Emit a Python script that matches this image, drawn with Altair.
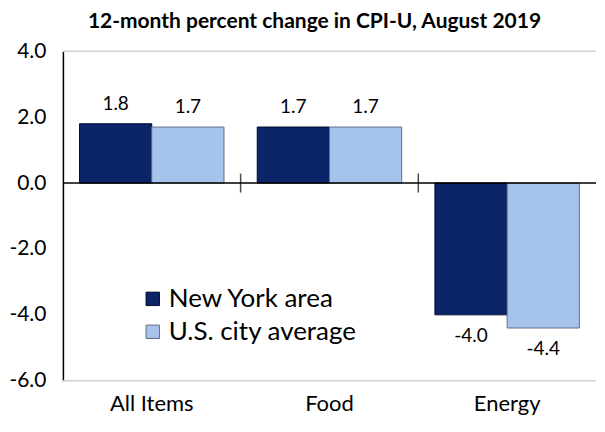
import altair as alt
import pandas as pd

categories = ["All Items", "Food", "Energy"]
series = ["New York area", "U.S. city average"]
ny_values = [1.8, 1.7, -4.0]
us_values = [1.7, 1.7, -4.4]
y_ticks = [-6.0, -4.0, -2.0, 0.0, 2.0, 4.0]
colors = ["#0c2468", "#a6c3ec"]
strokes = ["#020c30", "#5f6f8c"]

rows = []
for c, a, b in zip(categories, ny_values, us_values):
    rows.append({"cat": c, "series": series[0], "value": a})
    rows.append({"cat": c, "series": series[1], "value": b})
df = pd.DataFrame(rows)

FONT = "Lato"
W, H = 534, 330
LABEL_EXPR = "replace(format(datum.value, '.1f'), '\u2212', '-')"

x_enc = alt.X("cat:N", sort=categories, scale=alt.Scale(paddingInner=0, paddingOuter=0),
              axis=alt.Axis(title=None, domain=False, ticks=False, labelPadding=13,
                            labelFontSize=22, labelColor="black", labelFont=FONT, labelAngle=0))
xoff = alt.XOffset("series:N", sort=series, scale=alt.Scale(paddingInner=0, paddingOuter=0.23))
y_scale = alt.Scale(domain=[-6, 4], nice=False)

base = alt.Chart(df)

bars = base.mark_bar(strokeWidth=1).encode(
    x=x_enc,
    xOffset=xoff,
    y=alt.Y("value:Q", scale=y_scale,
            axis=alt.Axis(title=None, values=y_ticks, labelExpr=LABEL_EXPR, grid=False, ticks=False,
                          domainColor="black", domainWidth=1.5, labelFontSize=21,
                          labelColor="black", labelFont=FONT, labelPadding=17)),
    color=alt.Color("series:N", sort=series,
                    scale=alt.Scale(domain=series, range=colors),
                    legend=alt.Legend(title=None, orient="none", legendX=77, legendY=235,
                                      symbolType="square", symbolSize=180,
                                      symbolStrokeWidth=1, labelFontSize=26,
                                      labelFont=FONT, labelColor="black", labelLimit=0,
                                      rowPadding=7, labelOffset=3)),
    stroke=alt.Stroke("series:N", sort=series,
                      scale=alt.Scale(domain=series, range=strokes), legend=None),
)

labels_base = base.transform_calculate(label=LABEL_EXPR)

pos_labels = labels_base.transform_filter("datum.value >= 0").mark_text(
    baseline="middle", dy=-20, fontSize=19, font=FONT, color="black"
).encode(x=alt.X("cat:N", sort=categories), xOffset=xoff,
         y=alt.Y("value:Q", scale=y_scale), text="label:N")

neg_labels = labels_base.transform_filter("datum.value < 0").mark_text(
    baseline="middle", dy=21, fontSize=19, font=FONT, color="black"
).encode(x=alt.X("cat:N", sort=categories), xOffset=xoff,
         y=alt.Y("value:Q", scale=y_scale), text="label:N")

edge_df = pd.DataFrame({"v": [4.0, -6.0]})
edges = alt.Chart(edge_df).mark_rule(color="#d0d0d0", strokeWidth=1.5).encode(
    y=alt.Y("v:Q", scale=y_scale))

zero = alt.Chart(pd.DataFrame({"v": [0.0]})).mark_rule(color="black", strokeWidth=1.5).encode(
    y=alt.Y("v:Q", scale=y_scale))

tick_df = pd.DataFrame({"cat": categories[1:], "v": [0.0, 0.0]})
ticks = alt.Chart(tick_df).mark_tick(orient="vertical", size=19, thickness=1.5, color="black").encode(
    x=alt.X("cat:N", sort=categories, bandPosition=0),
    y=alt.Y("v:Q", scale=y_scale))

chart = alt.layer(edges, bars, zero, ticks, pos_labels, neg_labels).properties(
    width=W, height=H,
    padding={"left": 0, "top": 3, "right": 0, "bottom": 0},
    title=alt.TitleParams("12-month percent change in CPI-U, August 2019",
                          fontSize=21, fontWeight="bold", font=FONT, color="black",
                          anchor="middle", dx=-15, offset=8),
).configure_view(stroke=None)

chart.save("out.html", embed_options={"renderer": "svg", "actions": False})
